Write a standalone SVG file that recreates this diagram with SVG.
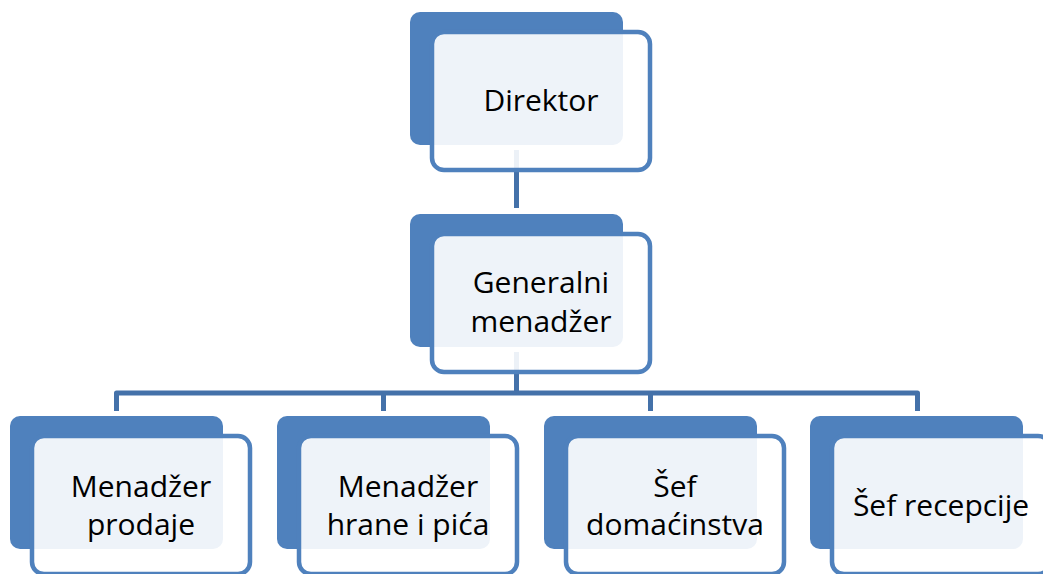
<svg xmlns="http://www.w3.org/2000/svg" width="1043" height="574" viewBox="0 0 1043 574">
<style>
.back{fill:#4F81BD}
.front{fill:#FFFFFF;fill-opacity:0.9;stroke:#4F81BD;stroke-width:4.5}
.conn{fill:none;stroke:#4471A9;stroke-width:5;stroke-linejoin:round}
.lbl{font-family:"Open Sans","Liberation Sans",Arial,sans-serif;font-size:30px;fill:#000;text-anchor:middle}
</style>
<rect width="1043" height="574" fill="#FFFFFF"/>
<g id="back-layer">
<rect class="back" x="410" y="12" width="213" height="133" rx="10"/>
<rect class="back" x="410" y="214" width="213" height="133" rx="10"/>
<rect class="back" x="10" y="416" width="213" height="133" rx="10"/>
<rect class="back" x="277" y="416" width="213" height="133" rx="10"/>
<rect class="back" x="544" y="416" width="213" height="133" rx="10"/>
<rect class="back" x="810" y="416" width="213" height="133" rx="10"/>
</g>
<g id="connectors">
<path class="conn" d="M516.5 150 V208"/>
<path class="conn" d="M516.5 352 V393"/>
<path class="conn" d="M116.5 411 V393 H917.5 V411"/>
<path class="conn" d="M383.5 393 V411"/>
<path class="conn" d="M650.5 393 V411"/>
</g>
<g id="node-direktor">
<rect class="front" x="432" y="32" width="218" height="138" rx="12"/>
<text class="lbl" x="541" y="111">Direktor</text>
</g>
<g id="node-generalni">
<rect class="front" x="432" y="234" width="218" height="138" rx="12"/>
<text class="lbl" x="541" y="293">Generalni</text>
<text class="lbl" x="541" y="332">menadžer</text>
</g>
<g id="node-prodaja">
<rect class="front" x="32" y="436" width="218" height="138" rx="12"/>
<text class="lbl" x="141" y="497">Menadžer</text>
<text class="lbl" x="141" y="535">prodaje</text>
</g>
<g id="node-hrana">
<rect class="front" x="299" y="436" width="218" height="138" rx="12"/>
<text class="lbl" x="408" y="497">Menadžer</text>
<text class="lbl" x="408" y="535">hrane i pića</text>
</g>
<g id="node-domacinstvo">
<rect class="front" x="566" y="436" width="218" height="138" rx="12"/>
<text class="lbl" x="675" y="497">Šef</text>
<text class="lbl" x="675" y="535">domaćinstva</text>
</g>
<g id="node-recepcija">
<rect class="front" x="832" y="436" width="218" height="138" rx="12"/>
<text class="lbl" x="941" y="516">Šef recepcije</text>
</g>
</svg>
